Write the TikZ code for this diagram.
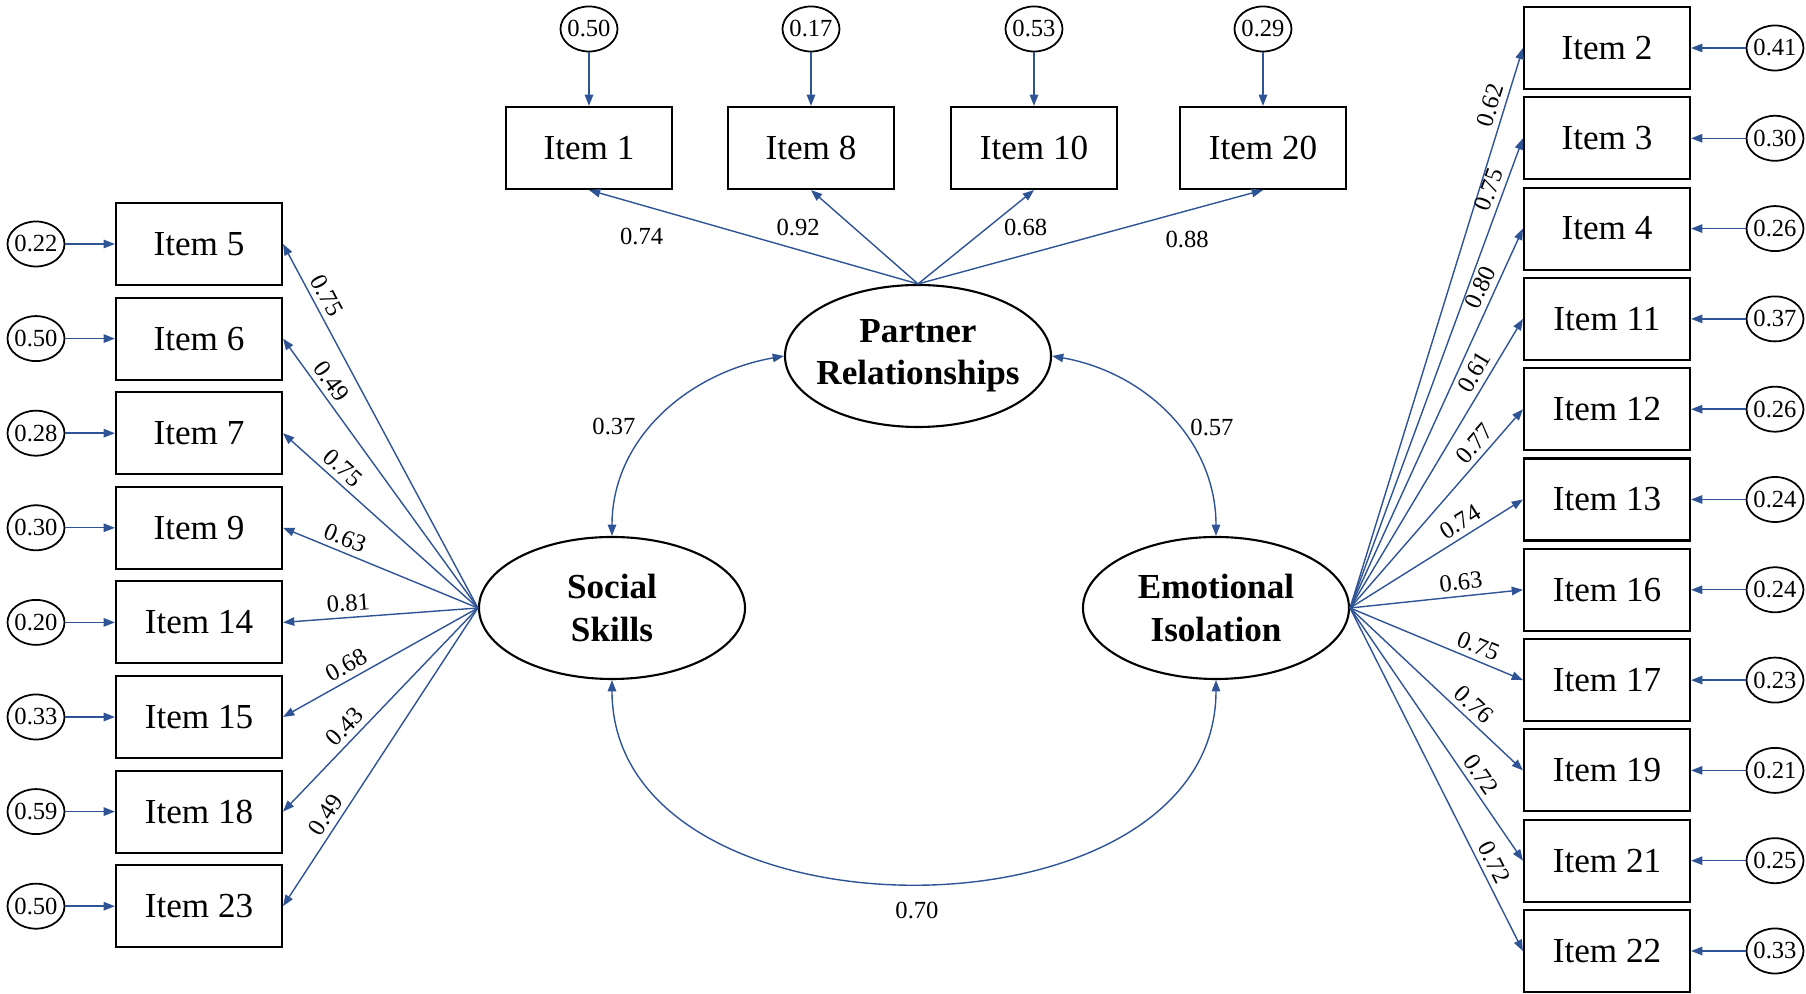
\documentclass[tikz,border=0pt]{standalone}
\usepackage{fontspec}
\setmainfont{Liberation Serif}
\usetikzlibrary{arrows.meta,shapes.geometric,positioning}
\definecolor{pathblue}{RGB}{47,84,150}
\tikzset{
    item box/.style={
        draw,line width=0.6pt,
        fill=white,
        minimum width=1.66cm,minimum height=0.82cm,
        font=\fontsize{10}{12}\selectfont
    },
    error term/.style={
        draw,ellipse,line width=0.5pt,
        inner xsep=-0.5pt,inner ysep=0pt,
        minimum width=0.57cm,minimum height=0.45cm,
        font=\fontsize{7}{8.4}\selectfont
    },
    latent/.style={
        draw,ellipse,line width=0.6pt,
        inner xsep=-3pt,inner ysep=1pt,
        minimum width=2.66cm,minimum height=1.42cm,
        align=center,font=\fontsize{10}{12}\selectfont\bfseries
    },
    loading/.style={text=black,font=\fontsize{7}{8.4}\selectfont,inner sep=1.5pt},
    path arrow/.style={pathblue,line width=0.4pt,->},
    cov arrow/.style={pathblue,line width=0.4pt,<->},
    >={Triangle[length=3.2pt,width=2.4pt]}
}
\begin{document}
\begin{tikzpicture}
\useasboundingbox (0,0) rectangle (18.06,-9.94);
% latent factors
\node[latent] (social) at (6.12,-6.08) {Social\\Skills};
\node[latent] (partner) at (9.18,-3.56) {Partner\\Relationships};
\node[latent] (emotional) at (12.16,-6.08) {Emotional\\Isolation};
% social skills
\foreach \i/\name/\err/\ld/\lpos in {0/5/0.22/0.75/0.84,1/6/0.50/0.49/0.81,2/7/0.28/0.75/0.74,3/9/0.30/0.63/0.71,4/14/0.20/0.81/0.66,5/15/0.33/0.68/0.64,6/18/0.59/0.43/0.63,7/23/0.50/0.49/0.72}{
    \node[item box] (item_\name) at (1.99,{-2.44-0.946*\i}) {Item \name};
    \node[error term] (err_\name) at (0.36,{-2.44-0.946*\i}) {\err};
    \draw[path arrow] (err_\name) -- (item_\name);
    \draw[path arrow] (social.west) -- (item_\name.east) node[loading,pos=\lpos,sloped,above] {\ld};
}
% partner relationships
\foreach \name/\x/\err in {1/5.89/0.50,8/8.11/0.17,10/10.34/0.53,20/12.63/0.29}{
    \node[item box] (item_\name) at (\x,-1.48) {Item \name};
    \node[error term] (err_\name) at (\x,-0.29) {\err};
    \draw[path arrow] (err_\name) -- (item_\name);
}
\draw[path arrow] (partner.north) -- (item_1.south) node[loading,pos=0.84,below=5pt] {0.74};
\draw[path arrow] (partner.north) -- (item_8.south) node[loading,pos=0.6,left=8pt] {0.92};
\draw[path arrow] (partner.north) -- (item_10.south) node[loading,pos=0.6,right=3pt] {0.68};
\draw[path arrow] (partner.north) -- (item_20.south) node[loading,pos=0.78,below=4pt] {0.88};
% emotional isolation
\foreach \i/\name/\err/\ld/\lpos in {0/2/0.41/0.62/0.89,1/3/0.30/0.75/0.88,2/4/0.26/0.80/0.83,3/11/0.37/0.61/0.79,4/12/0.26/0.77/0.78,5/13/0.24/0.74/0.68,6/16/0.24/0.63/0.65,7/17/0.23/0.75/0.71,8/19/0.21/0.76/0.66,9/21/0.25/0.72/0.69,10/22/0.33/0.72/0.76}{
    \node[item box] (item_\name) at (16.07,{-0.48-0.903*\i}) {Item \name};
    \node[error term] (err_\name) at (17.75,{-0.48-0.903*\i}) {\err};
    \draw[path arrow] (err_\name) -- (item_\name);
    \draw[path arrow] (emotional.east) -- (item_\name.west) node[loading,pos=\lpos,sloped,above] {\ld};
}
% correlations
\draw[cov arrow] (social.north) to[out=90,in=190] (partner.west);
\draw[cov arrow] (partner.east) to[out=-10,in=90] (emotional.north);
\draw[cov arrow] (social.south) .. controls +(0,-2.7) and +(0,-2.7) .. (emotional.south);
\node[loading] (cov_sp) at (6.14,-4.27) {0.37};
\node[loading] (cov_pe) at (12.12,-4.28) {0.57};
\node[loading] (cov_se) at (9.17,-9.10) {0.70};
\end{tikzpicture}
\end{document}
